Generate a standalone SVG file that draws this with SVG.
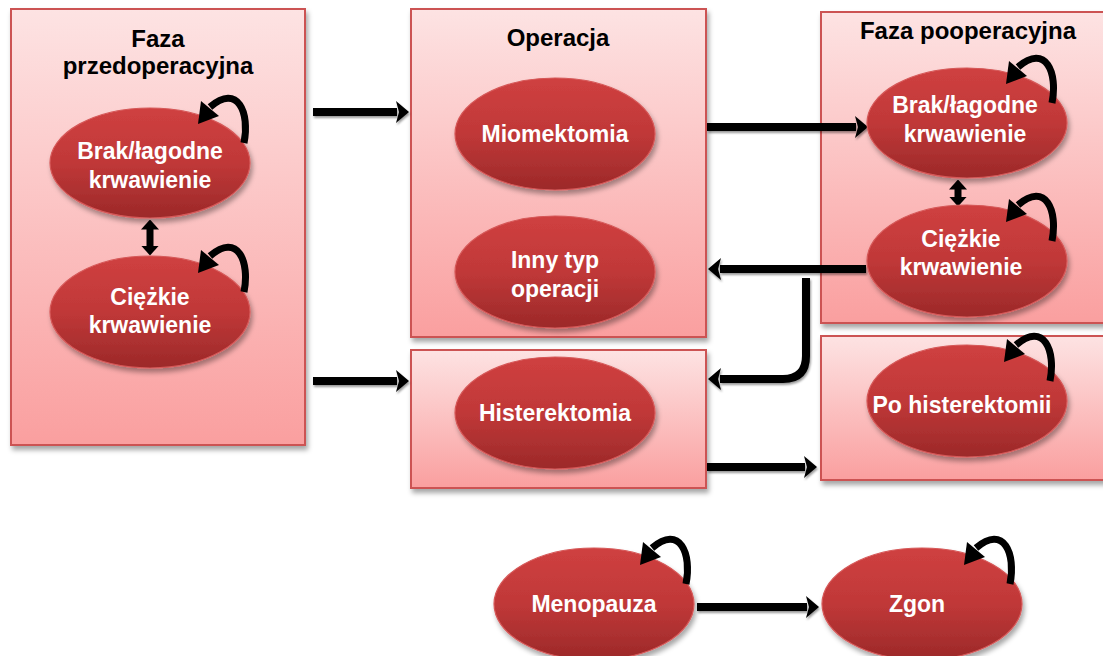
<svg xmlns="http://www.w3.org/2000/svg" width="1103" height="656" viewBox="0 0 1103 656">
<defs>
<linearGradient id="gBox" x1="0" y1="0" x2="0" y2="1">
<stop offset="0" stop-color="#fde3e3"/>
<stop offset="1" stop-color="#fa9f9f"/>
</linearGradient>
<linearGradient id="gEll" x1="0" y1="0" x2="0" y2="1">
<stop offset="0" stop-color="#cf4040"/>
<stop offset="0.5" stop-color="#c03838"/>
<stop offset="1" stop-color="#9c2929"/>
</linearGradient>
<filter id="sh" x="-10%" y="-10%" width="125%" height="130%">
<feDropShadow dx="2" dy="4" stdDeviation="2.5" flood-color="#000" flood-opacity="0.35"/>
</filter>
<filter id="shA" filterUnits="userSpaceOnUse" x="0" y="0" width="1103" height="656">
<feDropShadow dx="1" dy="2" stdDeviation="1.2" flood-color="#000" flood-opacity="0.4"/>
</filter>
<marker id="ah" markerUnits="userSpaceOnUse" markerWidth="13" markerHeight="22" viewBox="0 0 13 22" refX="1" refY="11" orient="auto-start-reverse">
<path d="M0,0 L13,11 L0,22 L3,11 z" fill="#000"/>
</marker>
<marker id="ahs" markerUnits="userSpaceOnUse" markerWidth="10" markerHeight="18" viewBox="0 0 10 18" refX="0.5" refY="9" orient="auto-start-reverse">
<path d="M0,0 L10,9 L0,18 z" fill="#000"/>
</marker>
<g id="loop">
<path d="M94,-20 C100,-50 88,-80 60,-56" fill="none" stroke="#000" stroke-width="7"/>
<path d="M69,-47 L48,-39 L51,-62 z" fill="#000"/>
</g>
</defs>
<style>
.box{fill:url(#gBox);stroke:#cc5252;stroke-width:2;filter:url(#sh);}
.ell{fill:url(#gEll);stroke:#d65858;stroke-width:1.2;filter:url(#sh);}
.title{font-family:"Liberation Sans",Arial,sans-serif;font-weight:bold;font-size:24px;fill:#000;text-anchor:middle;}
.lbl{font-family:"Liberation Sans",Arial,sans-serif;font-weight:bold;font-size:23px;fill:#fff;text-anchor:middle;}
.arr{fill:none;stroke:#000;stroke-width:8;marker-end:url(#ah);filter:url(#shA);}
.dbl{fill:none;stroke:#000;stroke-width:7;marker-start:url(#ahs);marker-end:url(#ahs);}
</style>

<g id="pre">
<rect class="box" x="11" y="9" width="294" height="436"/>
<text class="title" x="158" y="47">Faza</text>
<text class="title" x="158" y="74">przedoperacyjna</text>
</g>
<g id="op">
<rect class="box" x="411" y="9" width="295" height="328"/>
<text class="title" x="558" y="46">Operacja</text>
</g>
<g id="hist-box">
<rect class="box" x="411" y="350" width="295" height="138"/>
</g>
<g id="post">
<rect class="box" x="821" y="12" width="290" height="311"/>
<text class="title" x="968" y="39">Faza pooperacyjna</text>
</g>
<g id="posthist-box">
<rect class="box" x="821" y="336" width="290" height="144"/>
</g>

<g id="connectors">
<path class="arr" d="M313,112 L397,112"/>
<path class="arr" d="M313,381 L397,381"/>
<path class="arr" d="M707,127 L856,127"/>
<path class="arr" d="M866,269 L720,269"/>
<path class="arr" d="M806,278 L806,356 Q806,379 783,379 L720,379"/>
<path class="arr" d="M707,467 L805,467"/>
<path class="arr" d="M697,607 L807,607"/>
<path class="dbl" d="M150,229 L150,246"/>
<path class="dbl" d="M958,189 L958,197"/>
</g>

<g id="pre-mild">
<ellipse class="ell" cx="150" cy="163" rx="100" ry="55"/>
<use href="#loop" transform="translate(150,163)"/>
<text class="lbl" x="150" y="159">Brak/łagodne</text>
<text class="lbl" x="150" y="188">krwawienie</text>
</g>
<g id="pre-heavy">
<ellipse class="ell" cx="150" cy="312" rx="100" ry="56"/>
<use href="#loop" transform="translate(150,312)"/>
<text class="lbl" x="150" y="305">Ciężkie</text>
<text class="lbl" x="150" y="333">krwawienie</text>
</g>
<g id="miomektomia">
<ellipse class="ell" cx="555" cy="134" rx="100" ry="56"/>
<text class="lbl" x="555" y="142">Miomektomia</text>
</g>
<g id="inny">
<ellipse class="ell" cx="555" cy="272" rx="100" ry="56"/>
<text class="lbl" x="555" y="268">Inny typ</text>
<text class="lbl" x="555" y="297">operacji</text>
</g>
<g id="histerektomia">
<ellipse class="ell" cx="555" cy="413" rx="100" ry="56"/>
<text class="lbl" x="555" y="421">Histerektomia</text>
</g>
<g id="post-mild">
<ellipse class="ell" cx="967" cy="123" rx="100" ry="55"/>
<use href="#loop" transform="translate(958,123)"/>
<text class="lbl" x="965" y="113">Brak/łagodne</text>
<text class="lbl" x="965" y="142">krwawienie</text>
</g>
<g id="post-heavy">
<ellipse class="ell" cx="967" cy="261" rx="100" ry="56"/>
<use href="#loop" transform="translate(958,261)"/>
<text class="lbl" x="961" y="247">Ciężkie</text>
<text class="lbl" x="961" y="275">krwawienie</text>
</g>
<g id="po-hist">
<ellipse class="ell" cx="967" cy="401" rx="100" ry="56"/>
<use href="#loop" transform="translate(956,401)"/>
<text class="lbl" x="962" y="413">Po histerektomii</text>
</g>
<g id="menopauza">
<ellipse class="ell" cx="594" cy="604" rx="100" ry="56"/>
<use href="#loop" transform="translate(592,604)"/>
<text class="lbl" x="594" y="612">Menopauza</text>
</g>
<g id="zgon">
<ellipse class="ell" cx="922" cy="604" rx="100" ry="56"/>
<use href="#loop" transform="translate(916,604)"/>
<text class="lbl" x="917" y="612">Zgon</text>
</g>
</svg>
